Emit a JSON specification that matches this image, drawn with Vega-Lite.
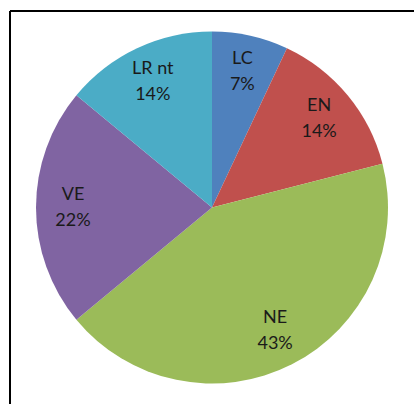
{
  "$schema": "https://vega.github.io/schema/vega-lite/v6.json",
  "width": 404,
  "height": 393,
  "autosize": {"type": "none"},
  "padding": {"left": 10, "top": 11, "right": 0, "bottom": 0},
  "background": "white",
  "config": {"view": {"stroke": null}},
  "data": {
    "values": [
      {"cat": "LC", "ord": 1, "value": 7, "pct": "7%"},
      {"cat": "EN", "ord": 2, "value": 14, "pct": "14%"},
      {"cat": "NE", "ord": 3, "value": 43, "pct": "43%"},
      {"cat": "VE", "ord": 4, "value": 22, "pct": "22%"},
      {"cat": "LR nt", "ord": 5, "value": 14, "pct": "14%"}
    ]
  },
  "layer": [
    {
      "mark": {"type": "arc", "outerRadius": 176, "stroke": null},
      "encoding": {
        "theta": {"field": "value", "type": "quantitative", "stack": true},
        "order": {"field": "ord", "type": "quantitative"},
        "color": {
          "field": "cat",
          "type": "nominal",
          "scale": {
            "domain": ["LC", "EN", "NE", "VE", "LR nt"],
            "range": ["#4F81BD", "#C0504D", "#9BBB59", "#8064A2", "#4BACC6"]
          },
          "legend": null
        }
      }
    },
    {
      "mark": {"type": "text", "radius": 139, "dy": -13, "font": "Lato", "fontSize": 18, "color": "#1a1a1a"},
      "encoding": {
        "theta": {"field": "value", "type": "quantitative", "stack": true},
        "order": {"field": "ord", "type": "quantitative"},
        "text": {"field": "cat"}
      }
    },
    {
      "mark": {"type": "text", "radius": 139, "dy": 13, "font": "Lato", "fontSize": 18, "color": "#1a1a1a"},
      "encoding": {
        "theta": {"field": "value", "type": "quantitative", "stack": true},
        "order": {"field": "ord", "type": "quantitative"},
        "text": {"field": "pct"}
      }
    },
    {
      "data": {
        "values": [
          {"edge": "top", "x": 0, "x2": 1, "y": 1, "y2": 1},
          {"edge": "left", "x": 0, "x2": 0, "y": 0, "y2": 1}
        ]
      },
      "mark": {"type": "rule", "strokeWidth": 2, "color": "black", "clip": false},
      "encoding": {
        "x": {"field": "x", "type": "quantitative", "scale": {"domain": [0, 1], "nice": false, "zero": false}, "axis": null},
        "x2": {"field": "x2"},
        "y": {"field": "y", "type": "quantitative", "scale": {"domain": [0, 1], "nice": false, "zero": false}, "axis": null},
        "y2": {"field": "y2"}
      }
    }
  ]
}
